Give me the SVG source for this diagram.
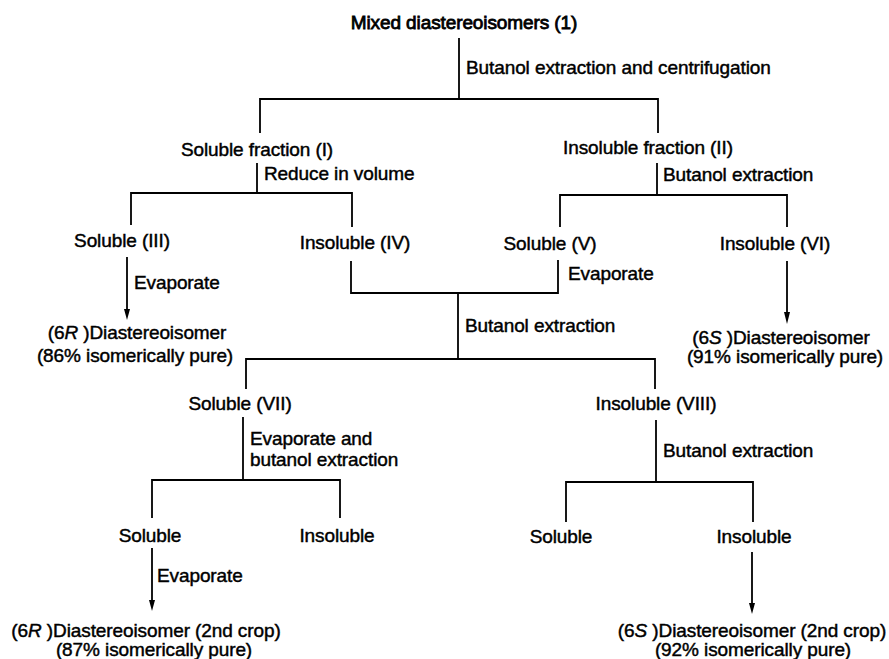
<svg xmlns="http://www.w3.org/2000/svg" width="889" height="659" viewBox="0 0 889 659">
<style>
text{font-family:"Liberation Sans",Arial,sans-serif;font-size:19px;fill:#000;stroke:#000;stroke-width:0.45px;letter-spacing:-0.1px}
.t{stroke-width:0.8px}
.m{text-anchor:middle}
.c{fill:none;stroke:#000;stroke-width:1.8}
.a{marker-end:url(#ah)}
</style>
<defs>
<marker id="ah" markerUnits="userSpaceOnUse" markerWidth="8" markerHeight="12" refX="3" refY="11" orient="auto-start-reverse" viewBox="0 0 6 12">
<path d="M0,0 L6,0 L3,11 Z" fill="#000" transform="rotate(0)"/>
</marker>
</defs>
<rect width="889" height="659" fill="#fff"/>
<g id="connectors">
<line class="c" x1="459" y1="38" x2="459" y2="99"/>
<polyline class="c" points="260,133 260,99 658,99 658,133"/>
<line class="c" x1="257" y1="163" x2="257" y2="193"/>
<polyline class="c" points="131,225 131,193 352,193 352,227"/>
<line class="c" x1="657" y1="163" x2="657" y2="195"/>
<polyline class="c" points="560,227 560,195 787,195 787,227"/>
<path class="c" d="M127,257 V311"/>
<path d="M124,309 L130,309 L127,320 Z" fill="#000"/>
<polyline class="c" points="351,261 351,293 558,293 558,260"/>
<line class="c" x1="458" y1="293" x2="458" y2="359"/>
<polyline class="c" points="246,389 246,359 655,359 655,389"/>
<path class="c" d="M787,261 V314"/>
<path d="M784,312 L790,312 L787,324 Z" fill="#000"/>
<line class="c" x1="243" y1="417" x2="243" y2="480"/>
<polyline class="c" points="152,518 152,480 340,480 340,518"/>
<line class="c" x1="656" y1="420" x2="656" y2="482"/>
<polyline class="c" points="566,522 566,482 753,482 753,522"/>
<path class="c" d="M152,548 V602"/>
<path d="M149,600 L155,600 L152,611 Z" fill="#000"/>
<path class="c" d="M752,552 V605"/>
<path d="M749,603 L755,603 L752,614 Z" fill="#000"/>
</g>
<g id="n-mixed"><text class="m t" x="464" y="29">Mixed diastereoisomers (1)</text></g>
<g id="l-butanol-centrifugation"><text x="466" y="74">Butanol extraction and centrifugation</text></g>
<g id="n-soluble-I"><text class="m" x="257" y="156">Soluble fraction (I)</text></g>
<g id="l-reduce"><text x="264" y="180">Reduce in volume</text></g>
<g id="n-insoluble-II"><text class="m" x="648" y="154">Insoluble fraction (II)</text></g>
<g id="l-butanol-II"><text x="663" y="181">Butanol extraction</text></g>
<g id="n-soluble-III"><text class="m" x="122" y="247">Soluble (III)</text></g>
<g id="n-insoluble-IV"><text class="m" x="355" y="249">Insoluble (IV)</text></g>
<g id="n-soluble-V"><text class="m" x="550" y="250">Soluble (V)</text></g>
<g id="n-insoluble-VI"><text class="m" x="775" y="250">Insoluble (VI)</text></g>
<g id="l-evap-III"><text x="134" y="289">Evaporate</text></g>
<g id="l-evap-V"><text x="568" y="280">Evaporate</text></g>
<g id="n-6R"><text class="m" x="137" y="339">(6<tspan font-style="italic">R</tspan> )Diastereoisomer</text><text class="m" x="135" y="362">(86% isomerically pure)</text></g>
<g id="l-butanol-mid"><text x="465" y="332">Butanol extraction</text></g>
<g id="n-6S"><text class="m" x="781" y="344">(6<tspan font-style="italic">S</tspan> )Diastereoisomer</text><text class="m" x="785" y="363">(91% isomerically pure)</text></g>
<g id="n-soluble-VII"><text class="m" x="240" y="410">Soluble (VII)</text></g>
<g id="n-insoluble-VIII"><text class="m" x="656" y="410">Insoluble (VIII)</text></g>
<g id="l-evap-butanol"><text x="250" y="445">Evaporate and</text><text x="250" y="466">butanol extraction</text></g>
<g id="l-butanol-VIII"><text x="663" y="457">Butanol extraction</text></g>
<g id="n-soluble-a"><text class="m" x="150" y="542">Soluble</text></g>
<g id="n-insoluble-a"><text class="m" x="337" y="542">Insoluble</text></g>
<g id="n-soluble-b"><text class="m" x="561" y="543">Soluble</text></g>
<g id="n-insoluble-b"><text class="m" x="754" y="543">Insoluble</text></g>
<g id="l-evap-2"><text x="157" y="582">Evaporate</text></g>
<g id="n-6R-2"><text class="m" x="146" y="637">(6<tspan font-style="italic">R</tspan> )Diastereoisomer (2nd crop)</text><text class="m" x="154" y="656">(87% isomerically pure)</text></g>
<g id="n-6S-2"><text class="m" x="752" y="637">(6<tspan font-style="italic">S</tspan> )Diastereoisomer (2nd crop)</text><text class="m" x="753" y="656">(92% isomerically pure)</text></g>
</svg>
